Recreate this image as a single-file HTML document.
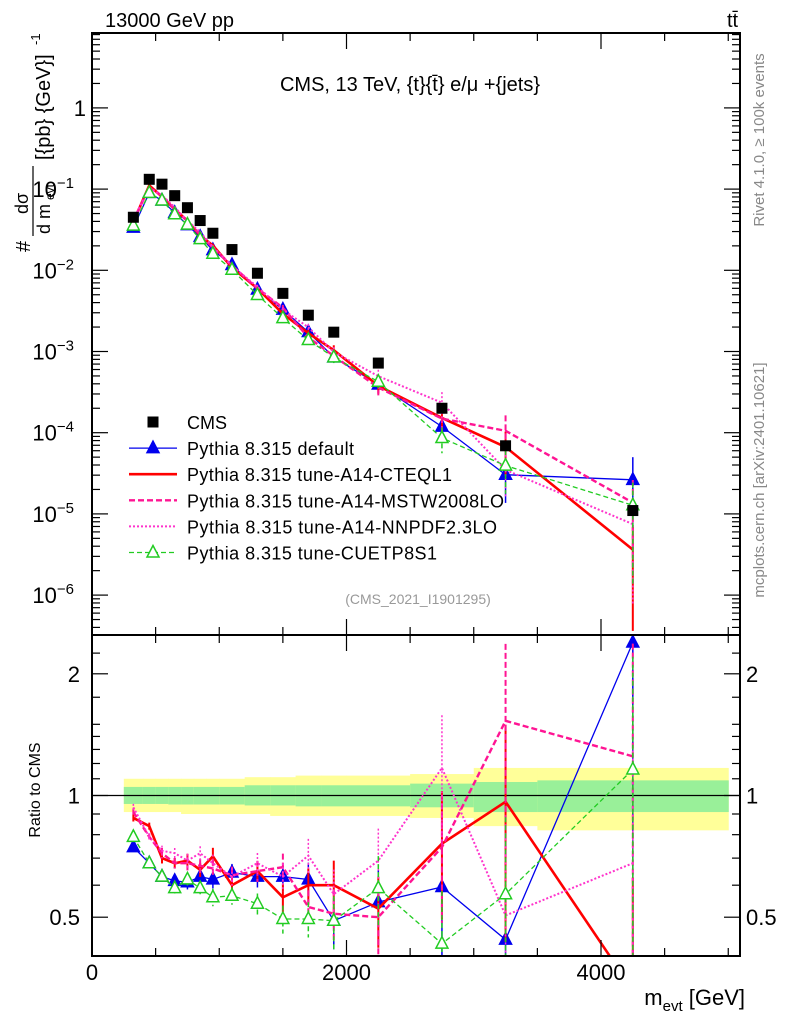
<!DOCTYPE html>
<html><head><meta charset="utf-8"><style>
html,body{margin:0;background:#fff;overflow:hidden;width:786px;height:1024px}
svg{display:block;font-family:"Liberation Sans",sans-serif}
</style></head><body>
<svg id="c" width="786" height="1024" viewBox="0 0 786 1024" xmlns="http://www.w3.org/2000/svg">
<g id="bands"></g>
<g id="marks"></g>
<g id="axes"></g>
<text x="105" y="27" font-size="20">13000 GeV pp</text>
<text x="727" y="27" font-size="20">tt̄</text>
<text x="410" y="91" font-size="20" text-anchor="middle">CMS, 13 TeV, {t}{t̄} e/μ +{jets}</text>
<text x="418" y="604" font-size="14" fill="#999" text-anchor="middle">(CMS_2021_I1901295)</text>
<text transform="translate(764,140) rotate(-90)" font-size="15" fill="#888" text-anchor="middle">Rivet 4.1.0, ≥ 100k events</text>
<text transform="translate(764,480) rotate(-90)" font-size="15" fill="#888" text-anchor="middle">mcplots.cern.ch [arXiv:2401.10621]</text>
<g transform="translate(0,252) rotate(-90)">
<text x="0" y="30" font-size="20">#</text>
<text x="38" y="28" font-size="18">dσ</text>
<line x1="16" y1="33" x2="86" y2="33" stroke="#000" stroke-width="1.2"/>
<text x="18" y="50" font-size="18">d m</text><text x="52" y="54" font-size="12">evt</text>
<text x="92" y="50" font-size="20">[{pb} {GeV}]</text><text x="207" y="40" font-size="13">-1</text>
</g>
<text transform="translate(40,790) rotate(-90)" font-size="16" text-anchor="middle">Ratio to CMS</text>
<g><text x="745" y="1005" font-size="22" text-anchor="end">m<tspan font-size="15" dy="6">evt</tspan><tspan dy="-6"> [GeV]</tspan></text></g>
<g id="legend"></g>
</svg>
<script>
const NS="http://www.w3.org/2000/svg";
const xCenters=[325,450,550,650,750,850,950,1100,1300,1500,1700,1900,2250,2750,3250,4250];
const xEdges=[250,400,500,600,700,800,900,1000,1200,1400,1600,1800,2000,2500,3000,3500,5000];
const cmsValues=[0.045,0.132,0.115,0.083,0.059,0.041,0.0286,0.018,0.0092,0.0052,0.0028,0.00173,0.00072,0.0002,0.000069,0.000011];
const ratioDefault=[0.745,0.68,0.63,0.615,0.61,0.63,0.62,0.645,0.63,0.63,0.62,0.49,0.545,0.594,0.44,2.39];
const ratioCTEQ=[0.88,0.84,0.70,0.68,0.69,0.655,0.707,0.60,0.65,0.56,0.60,0.60,0.525,0.76,0.965,0.33];
const ratioMSTW=[0.91,0.79,0.72,0.68,0.68,0.67,0.66,0.635,0.65,0.665,0.53,0.51,0.50,0.745,1.53,1.25];
const ratioNNPDF=[0.935,0.79,0.73,0.72,0.69,0.72,0.68,0.63,0.68,0.63,0.71,0.57,0.69,1.17,0.505,0.68];
const ratioCUETP=[0.79,0.68,0.63,0.59,0.62,0.59,0.56,0.565,0.54,0.495,0.495,0.49,0.59,0.43,0.57,1.16];
const mcErrRel=[0.02,0.02,0.03,0.03,0.04,0.04,0.05,0.05,0.06,0.08,0.1,0.15,0.2,0.35,0.55,0.9];
const bandTotUp=[1.10,1.10,1.10,1.10,1.10,1.10,1.10,1.10,1.11,1.11,1.12,1.12,1.12,1.13,1.17,1.17];
const bandTotDn=[0.91,0.91,0.91,0.91,0.90,0.90,0.90,0.90,0.90,0.89,0.89,0.89,0.89,0.88,0.84,0.82];
const bandStatUp=[1.05,1.05,1.05,1.05,1.05,1.05,1.05,1.05,1.06,1.06,1.06,1.06,1.06,1.07,1.08,1.09];
const bandStatDn=[0.953,0.953,0.953,0.95,0.95,0.95,0.95,0.95,0.945,0.945,0.94,0.94,0.94,0.935,0.91,0.91];
const xTicksMajor=[0,2000,4000];
const yMainTicks=[0,-1,-2,-3,-4,-5,-6];
const ratioTicksMajor=[0.5,1,2];
const ratioTicksMinor=[0.4,0.6,0.7,0.8,0.9,1.1,1.2,1.3,1.4,1.5,1.75,2.25];

const L=92,R=740,T=33,MID=635,B=956;
const X=v=>L+v*0.12725;
const Y=v=>107.9-81.2*Math.log10(v);
const YR=r=>795.5-121.7*Math.log2(r);
function el(tag,attrs,parent){const e=document.createElementNS(NS,tag);for(const k in attrs)e.setAttribute(k,attrs[k]);parent.appendChild(e);return e;}
const c=document.getElementById('c'),bands=document.getElementById('bands'),marks=document.getElementById('marks'),axes=document.getElementById('axes'),legend=document.getElementById('legend');
const defs=el('defs',{},c);
const cp1=el('clipPath',{id:'cm'},defs);el('rect',{x:L,y:T,width:R-L,height:MID-T},cp1);
const cp2=el('clipPath',{id:'cr'},defs);el('rect',{x:L,y:MID,width:R-L,height:B-MID},cp2);
const gMain=el('g',{'clip-path':'url(#cm)'},marks);


const gRat=el('g',{'clip-path':'url(#cr)'},marks);


for(let i=0;i<xCenters.length;i++){
  const x0=X(xEdges[i]),x1=X(xEdges[i+1]);
  const a=el('rect',{x:x0,y:YR(bandTotUp[i]),width:x1-x0+0.5,height:YR(bandTotDn[i])-YR(bandTotUp[i]),fill:'#ffff99'},bands);
  
  
  const b=el('rect',{x:x0,y:YR(bandStatUp[i]),width:x1-x0+0.5,height:YR(bandStatDn[i])-YR(bandStatUp[i]),fill:'#99f099'},bands);
  
  
}
const one=el('line',{x1:L,x2:R,y1:YR(1),y2:YR(1),stroke:'#000','stroke-width':1.2},bands);



const series=[
 {name:'Pythia 8.315 default',key:'default',r:ratioDefault,col:'#0000ee',w:1.3,dash:'',marker:'tri'},
 {name:'Pythia 8.315 tune-A14-CTEQL1',key:'cteql1',r:ratioCTEQ,col:'#ff0000',w:2.6,dash:'',marker:''},
 {name:'Pythia 8.315 tune-A14-MSTW2008LO',key:'mstw',r:ratioMSTW,col:'#ff1493',w:2.4,dash:'6,3',marker:''},
 {name:'Pythia 8.315 tune-A14-NNPDF2.3LO',key:'nnpdf',r:ratioNNPDF,col:'#ff33cc',w:2,dash:'2,2',marker:''},
 {name:'Pythia 8.315 tune-CUETP8S1',key:'cuetp',r:ratioCUETP,col:'#22cc22',w:1.3,dash:'5,3',marker:'otri'}
];
function tri(g,x,y,col,filled,nm){
  const p=el('polygon',{points:`${x},${y-7} ${x-6},${y+4.5} ${x+6},${y+4.5}`,fill:filled?col:'#fff',stroke:col,'stroke-width':1.5},g);
  
  
}
series.forEach(s=>{
  ['main','ratio'].forEach(panel=>{
    const g=panel==='main'?gMain:gRat;
    const f=panel==='main'?(i=>Y(cmsValues[i]*s.r[i])):(i=>YR(s.r[i]));
    const pts=xCenters.map((x,i)=>X(x)+','+f(i)).join(' ');
    const pl=el('polyline',{points:pts,fill:'none',stroke:s.col,'stroke-width':s.w,'stroke-dasharray':s.dash},g);
    
    
    xCenters.forEach((x,i)=>{
      const v=panel==='main'?cmsValues[i]*s.r[i]:s.r[i];
      const lo=v*(1-Math.min(mcErrRel[i],0.999)),hi=v*(1+mcErrRel[i]);
      const Yf=panel==='main'?Y:YR;
      const eb=el('line',{x1:X(x),x2:X(x),y1:Yf(hi),y2:Yf(lo),stroke:s.col,'stroke-width':s.w>2?2:1.5,'stroke-dasharray':s.dash},g);
      
      
      if(s.marker)tri(g,X(x),f(i),s.col,s.marker==='tri',s.key+'-marker');
    });
  });
});
xCenters.forEach((x,i)=>{
  const r=el('rect',{x:X(x)-5.5,y:Y(cmsValues[i])-5.5,width:11,height:11,fill:'#000'},gMain);
  
  
});
[[T,MID],[MID,B]].forEach(([t,b])=>{
  const f=el('rect',{x:L,y:t,width:R-L,height:b-t,fill:'none',stroke:'#000','stroke-width':2},axes);
  
  
});
for(let v=0;v<=5000;v+=500){
  const len=(v%2000===0)?16:8;
  [[T,1],[MID,-1],[MID,1],[B,-1]].forEach(([y,d])=>{
    const t=el('line',{x1:X(v),x2:X(v),y1:y,y2:y+d*len,stroke:'#000','stroke-width':1.2},axes);
    
    
  });
}
xTicksMajor.forEach(v=>{
  const t=el('text',{x:X(v),y:980,'font-size':22,'text-anchor':'middle'},axes);t.textContent=v;
  
  
});
for(let d=1;d>=-7;d--){
  for(let m=1;m<10;m++){
    const y=Y(m*Math.pow(10,d));if(y<T||y>MID)continue;
    const len=m===1?16:8;
    [[L,1],[R,-1]].forEach(([x,s])=>{
      const t=el('line',{x1:x,x2:x+s*len,y1:y,y2:y,stroke:'#000','stroke-width':1.2},axes);
      
      
    });
  }
}
yMainTicks.forEach(e=>{
  const y=Y(Math.pow(10,e));
  const t=el('text',{x:86,y:y+8,'font-size':22,'text-anchor':'end'},axes);
  if(e===0)t.textContent='1';
  else{t.textContent='10';const s=el('tspan',{dy:-9,'font-size':15},t);s.textContent='−'+(-e);t.setAttribute('x',82-(String(-e).length*8));}
  
  
});
ratioTicksMajor.concat(ratioTicksMinor).forEach(r=>{
  const y=YR(r);if(y<MID||y>B)return;
  const len=ratioTicksMajor.includes(r)?16:8;
  [[L,1],[R,-1]].forEach(([x,s])=>{
    const t=el('line',{x1:x,x2:x+s*len,y1:y,y2:y,stroke:'#000','stroke-width':1.2},axes);
    
    
  });
});
ratioTicksMajor.forEach(r=>{
  [[80,'end'],[746,'start']].forEach(([x,a])=>{
    const t=el('text',{x:x,y:YR(r)+8,'font-size':22,'text-anchor':a},axes);t.textContent=r;
    
    
  });
});
const rows=[{name:'CMS',key:'cms'}].concat(series);
rows.forEach((s,i)=>{
  const y=422+i*26.1;
  const g=el('g',{},legend);
  
  
  if(s.key==='cms'){el('rect',{x:147.5,y:y-5.5,width:11,height:11,fill:'#000'},g);}
  else{
    el('line',{x1:129,x2:177,y1:y,y2:y,stroke:s.col,'stroke-width':s.w,'stroke-dasharray':s.dash},g);
    if(s.marker)tri(g,153,y,s.col,s.marker==='tri','legend-marker');
  }
  const t=el('text',{x:187,y:y+7,'font-size':18},g);t.textContent=s.name;
  if(s.key!=='cms')t.setAttribute('textLength',{default:167,cteql1:265,mstw:317,nnpdf:310,cuetp:250}[s.key]);
});
</script>
</body></html>
